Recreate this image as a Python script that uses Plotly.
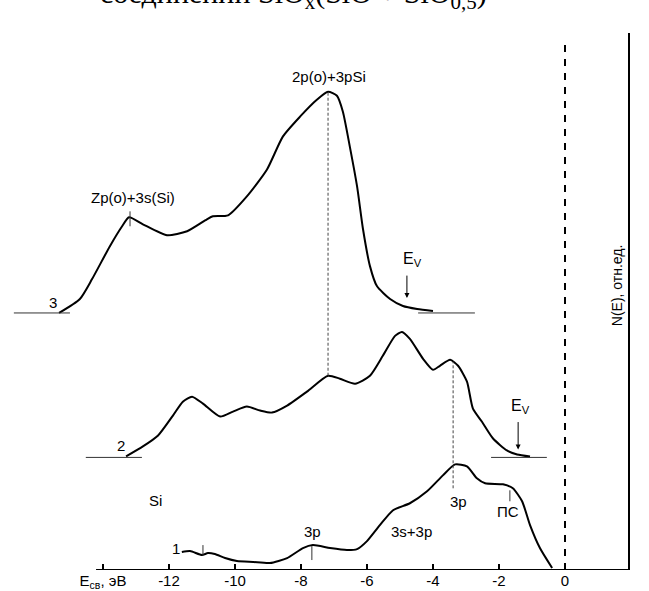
import plotly.graph_objects as go

# ---- data (binding energy E, eV ; N(E), rel. units with vertical offsets) ----
E3 = [-15.33, -14.70, -14.33, -13.79, -13.42, -13.21, -12.79, -12.06, -11.45, -10.85, -10.67,
      -10.21, -9.64, -9.03, -8.55, -8.03, -7.52, -7.18, -6.91, -6.73, -6.52, -6.30, -6.12,
      -5.91, -5.70, -5.30, -4.91, -4.48, -4.00]
N3 = [25.8, 27.2, 29.2, 32.5, 34.5, 35.4, 34.7, 33.6, 34.0, 35.2, 35.5,
      35.6, 37.5, 40.2, 43.5, 45.5, 47.2, 48.0, 47.6, 46.0, 42.5, 38.5, 34.2,
      30.5, 28.5, 27.2, 26.5, 26.2, 26.0]

E2 = [-13.30, -12.79, -12.33, -11.88, -11.58, -11.30, -10.97, -10.45, -10.06, -9.64, -9.24,
      -8.88, -8.42, -7.82, -7.18, -6.82, -6.36, -5.91, -5.52, -5.15, -4.94, -4.70, -4.30,
      -4.00, -3.79, -3.48, -3.24, -2.97, -2.79, -2.52, -2.18, -1.76, -1.45, -1.06]
N2 = [11.4, 12.4, 13.5, 15.5, 16.9, 17.4, 16.7, 15.4, 15.9, 16.4, 16.0,
      15.8, 16.5, 17.9, 19.5, 19.2, 18.7, 19.5, 21.5, 23.5, 23.9, 23.2, 21.2,
      20.1, 20.5, 21.1, 20.5, 18.9, 16.2, 14.9, 13.2, 12.0, 11.6, 11.4]

E1 = [-11.61, -11.36, -11.00, -10.82, -10.61, -10.30, -9.94, -9.45, -8.94, -8.42, -7.94,
      -7.64, -7.12, -6.61, -6.30, -6.00, -5.61, -5.21, -4.70, -4.18, -3.70, -3.33,
      -2.97, -2.67, -2.42, -1.88, -1.58, -1.30, -1.06, -0.76, -0.39]
N1 = [1.8, 1.9, 1.5, 1.7, 1.6, 1.2, 0.9, 0.8, 0.7, 1.2, 2.2,
      2.5, 2.2, 2.0, 2.1, 2.9, 4.5, 6.0, 6.7, 7.9, 9.5, 10.6,
      10.4, 9.2, 8.7, 8.6, 8.2, 6.9, 4.5, 2.2, 0.2]

# background (zero) levels of the spectra: [E_start, E_end, level]
base_lines = [[-16.70, -15.00, 25.8], [-4.45, -2.73, 25.8],
              [-14.52, -12.82, 11.3], [-2.24, -0.55, 11.3]]
# short feature markers: [E, N_from, N_to]
feature_marks = [[-13.18, 34.5, 36.0], [-10.97, 1.5, 2.5], [-7.67, 1.0, 2.4], [-1.67, 6.9, 8.0]]
# dashed guide lines: [E, N_from, N_to]
guide_lines = [[-7.18, 19.5, 48.0], [-3.39, 8.2, 20.9]]
# valence band edge arrows: [E, N_from, N_to]
ev_arrows = [[-4.79, 29.7, 27.3], [-1.42, 15.0, 12.1]]

tick_vals = [-14, -12, -10, -8, -6, -4, -2, 0]
tick_text = ["E<sub>св</sub>, эВ", "-12", "-10", "-8", "-6", "-4", "-2", "0"]

X_RANGE = [-17.12, 1.909]
Y_RANGE = [0, 53.9]
FONT = "Liberation Sans, Arial, sans-serif"

fig = go.Figure()
for ex, ny in [(E3, N3), (E2, N2), (E1, N1)]:
    fig.add_trace(go.Scatter(x=ex, y=ny, mode="lines",
                             line=dict(color="black", width=2, shape="spline", smoothing=0.6),
                             hoverinfo="skip", showlegend=False))

shapes = []
for x0, x1, lv in base_lines:
    shapes.append(dict(type="line", x0=x0, x1=x1, y0=lv, y1=lv, xref="x", yref="y",
                       line=dict(color="#333", width=1)))
for ex, a, b in feature_marks:
    shapes.append(dict(type="line", x0=ex, x1=ex, y0=a, y1=b, xref="x", yref="y",
                       line=dict(color="#333", width=1)))
for ex, a, b in guide_lines:
    shapes.append(dict(type="line", x0=ex, x1=ex, y0=a, y1=b, xref="x", yref="y",
                       line=dict(color="#444", width=1, dash="3px,2px")))
# Fermi level
shapes.append(dict(type="line", x0=0, x1=0, y0=0, y1=53.4, xref="x", yref="y",
                   line=dict(color="black", width=2, dash="7px,7px")))
# energy axis line
shapes.append(dict(type="line", x0=-14.21, x1=X_RANGE[1], y0=0, y1=0, xref="x", yref="y",
                   line=dict(color="black", width=2)))

annotations = []
for ex, a, b in ev_arrows:
    annotations.append(dict(x=ex, y=b, ax=ex, ay=a, xref="x", yref="y", axref="x", ayref="y",
                            showarrow=True, arrowhead=2, arrowsize=1, arrowwidth=1,
                            arrowcolor="black", text=""))

def lab(x, y, t, size=15, **kw):
    d = dict(x=x, y=y, text=t, xref="x", yref="y", showarrow=False,
             font=dict(family=FONT, size=size, color="black"))
    d.update(kw)
    annotations.append(d)

lab(-15.52, 26.8, "3")
lab(-13.45, 12.5, "2")
lab(-11.78, 2.2, "1")
lab(-12.42, 7.0, "Si")
lab(-13.09, 37.4, "Zp(o)+3s(Si)")
lab(-7.15, 49.5, "2p(o)+3pSi")
lab(-4.61, 31.2, "E<sub>V</sub>", size=16)
lab(-1.36, 16.4, "E<sub>V</sub>", size=16)
lab(-7.64, 3.9, "3p")
lab(-4.64, 3.9, "3s+3p")
lab(-3.24, 6.9, "3p")
lab(-1.73, 5.9, "ПС")
lab(0.0, 54.9, "E<sub>F</sub>", size=16)
lab(1.58, 28.6, "N(E), отн.ед.", size=14, textangle=-90)
# title line (cut by the top edge, as in the source image)
annotations.append(dict(x=293 / 628, y=1, xref="paper", yref="paper", xanchor="center",
                        yanchor="middle", yshift=38, showarrow=False,
                        text="соединений SiO<sub>x</sub>(SiO + SiO<sub>0,5</sub>)",
                        font=dict(family="Liberation Serif, Times New Roman, serif", size=30,
                                  color="black")))

fig.update_layout(
    width=649, height=591,
    margin=dict(l=0, r=21, t=33, b=19),
    paper_bgcolor="white", plot_bgcolor="white",
    shapes=shapes, annotations=annotations,
    xaxis=dict(range=X_RANGE, tickvals=tick_vals, ticktext=tick_text, ticks="inside",
               ticklen=6, tickwidth=1.5, tickcolor="black", showline=False, zeroline=False,
               showgrid=False, tickfont=dict(family=FONT, size=15, color="black")),
    yaxis=dict(range=Y_RANGE, side="right", showline=True, linecolor="black", linewidth=2,
               showticklabels=False, ticks="", zeroline=False, showgrid=False),
)

fig.write_html("out.html")
